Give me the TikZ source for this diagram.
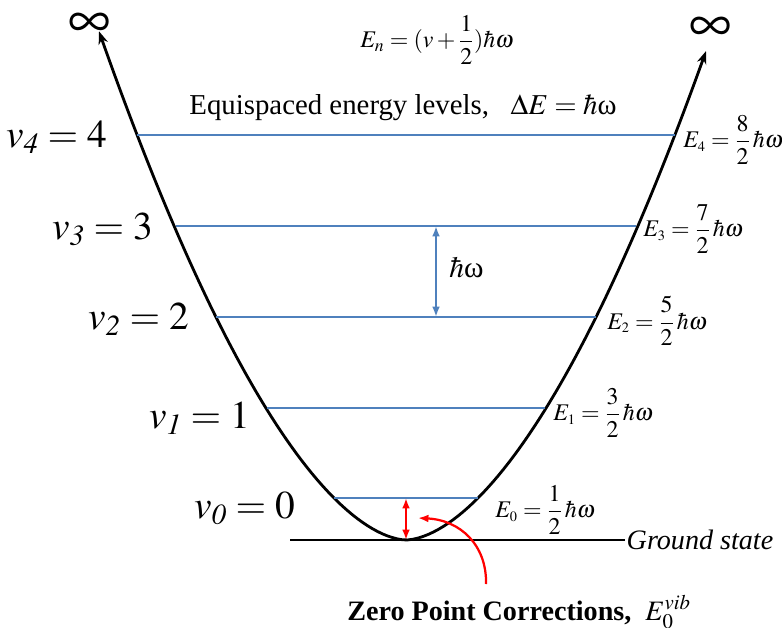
\documentclass[tikz,border=0pt]{standalone}
\usepackage{amsmath}
\usepackage{mathptmx}
\usepackage[no-math]{fontspec}
\setmainfont{Liberation Serif}
\usetikzlibrary{arrows.meta, calc}

\definecolor{lvlblue}{RGB}{79,129,189}

\begin{document}
\begin{tikzpicture}[
  x=0.025cm, y=-0.025cm,
  well/.style  ={line width=2pt, black},
  lvl/.style   ={draw=lvlblue, line width=2pt},
  vlab/.style  ={anchor=east, inner sep=0pt, font=\fontsize{28}{32}\selectfont},
  elab/.style  ={anchor=west, inner sep=0pt, font=\fontsize{17}{19}\selectfont},
  gap/.style   ={{Latex[length=2.6mm]}-{Latex[length=2.6mm]}, lvlblue, line width=1.5pt},
  zpe/.style   ={{Latex[length=2.6mm]}-{Latex[length=2.6mm]}, red, line width=1.6pt},
  inf/.style   ={inner sep=0pt, font=\fontsize{42}{44}\selectfont},
]
\useasboundingbox (0,0) rectangle (782,628);

% ================= potential well =================
\draw[well, {Stealth[length=3.2mm]}-{Stealth[length=3.2mm]}]
  plot[domain=-3.07:3.0, samples=121]
    ({406+100*\x}, {540-73.9*pow(max(abs(\x),0.0001),1.72)});

\node[inf] (infL) at (90,26) {$\infty$};
\node[inf] (infR) at (711,30) {$\infty$};

% ================= energy levels =================
\foreach \n/\y/\xa/\xb in {4/135/137/675, 3/226/176/636, 2/317/216/596,
                           1/408/267/545, 0/498/334/478}{
  \coordinate (l\n a) at (\xa,\y);
  \coordinate (l\n b) at (\xb,\y);
  \draw[lvl] (l\n a) -- (l\n b);
}

% quantum numbers on the left
\node[vlab] (v4) at (107,137) {$v_{\mathit{4}}=4$};
\node[vlab] (v3) at (153,229) {$v_{\mathit{3}}=3$};
\node[vlab] (v2) at (189,319) {$v_{\mathit{2}}=2$};
\node[vlab] (v1) at (250,418) {$v_{\mathit{1}}=1$};
\node[vlab] (v0) at (295,508) {$v_{\mathit{0}}=0$};

% energies on the right
\node[elab] (e4) at (683,140) {$E_{\scriptscriptstyle 4}=\dfrac{8}{2}\,\hbar\omega$};
\node[elab] (e3) at (643,229) {$E_{\scriptscriptstyle 3}=\dfrac{7}{2}\,\hbar\omega$};
\node[elab] (e2) at (607,321) {$E_{\scriptscriptstyle 2}=\dfrac{5}{2}\,\hbar\omega$};
\node[elab] (e1) at (553,413) {$E_{\scriptscriptstyle 1}=\dfrac{3}{2}\,\hbar\omega$};
\node[elab] (e0) at (495,510) {$E_{\scriptscriptstyle 0}=\dfrac{1}{2}\,\hbar\omega$};

% spacing between v3 and v2
\coordinate (g3) at (436,226);
\coordinate (g2) at (436,317);
\draw[gap] (g3) -- (g2);
\node[anchor=west, inner sep=0pt, font=\fontsize{21}{23}\selectfont] (hw) at (449,268)
  {$\hbar$ω};

% ================= headings =================
\node[font=\fontsize{17}{19}\selectfont] (formula) at (437,40)
  {$E_n=(v+\dfrac{1}{2})\hbar\omega$};
\node[font=\fontsize{20.5}{22}\selectfont] (equi) at (403,108)
  {Equispaced energy\ levels,\ \ \ $\Delta E=\hbar$ω};

% ================= ground state + zero point =================
\coordinate (gsL) at (290,540);
\coordinate (gsR) at (625,540);
\draw[line width=2pt] (gsL) -- (gsR);
\node[anchor=west, inner sep=1pt, font=\fontsize{20}{22}\selectfont\itshape] (gs)
  at (gsR) {Ground state};

\coordinate (z0) at (406,498);
\coordinate (z1) at (406,540);
\draw[zpe] (z0) -- (z1);

\node[anchor=base west, inner sep=0pt, font=\fontsize{20}{22}\selectfont\bfseries] (zpc)
  at (347,620) {Zero Point Corrections,\ \ $E_0^{\mathit{vib}}$};
\coordinate (cv) at (486,584);
\coordinate (ct) at (418,518);
\draw[red, line width=1.6pt, -{Latex[length=2.6mm]}]
  (cv) .. controls (487,545) and (460,520) .. (ct);

\end{tikzpicture}
\end{document}
